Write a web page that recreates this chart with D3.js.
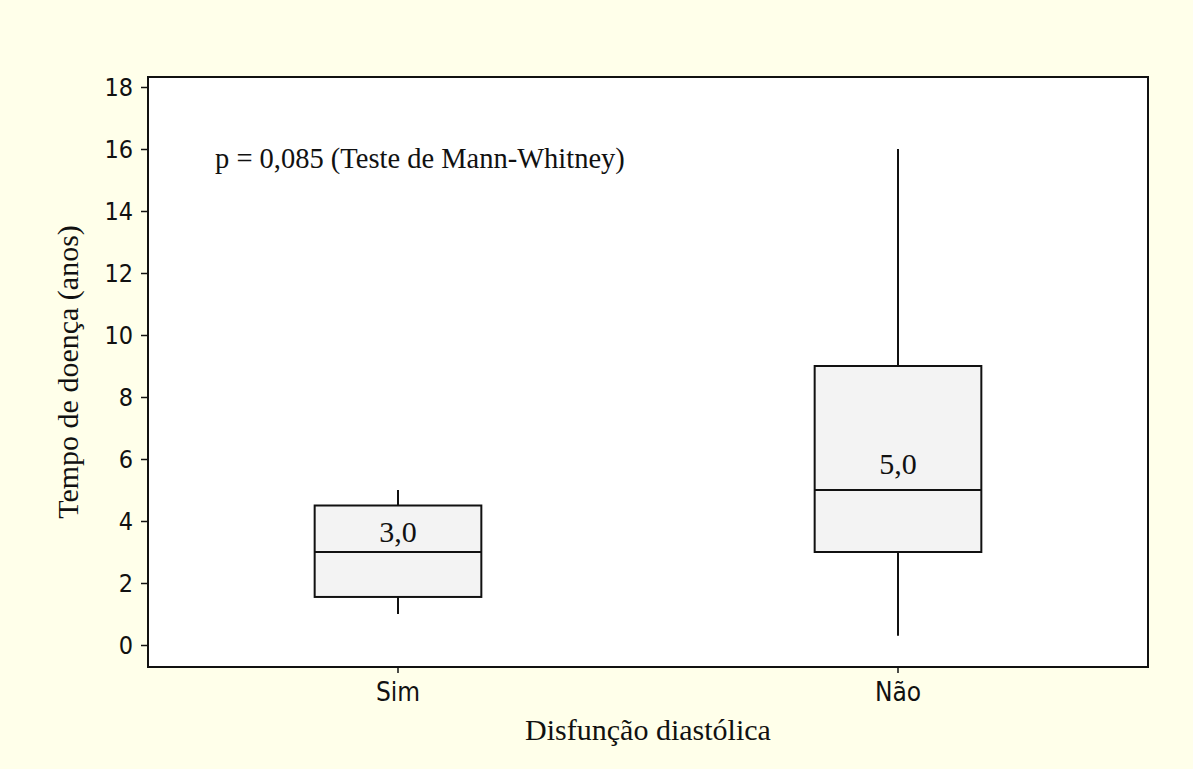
<!DOCTYPE html>
<html>
<head>
<meta charset="utf-8">
<script src="https://cdn.jsdelivr.net/npm/d3@7"></script>
<style>
  html, body { margin: 0; padding: 0; background: #ffffea; }
</style>
</head>
<body>
<div id="chart"></div>
<script>
// data
const groups = ["Sim", "Não"];
const whiskerLow = [1.0, 0.3];
const q1 = [1.55, 3.0];
const medians = [3.0, 5.0];
const q3 = [4.5, 9.0];
const whiskerHigh = [5.0, 16.0];
const medianLabels = ["3,0", "5,0"];
const yTicks = [0, 2, 4, 6, 8, 10, 12, 14, 16, 18];
const annotation = "p = 0,085 (Teste de Mann-Whitney)";

const W = 1193, H = 769;
const plot = { left: 148, top: 77, right: 1148, bottom: 667 };
const sansFont = "'DejaVu Sans Condensed', 'DejaVu Sans', Verdana, sans-serif";
const serifFont = "'Liberation Serif', 'Times New Roman', serif";

const svg = d3.select("#chart").append("svg")
    .attr("width", W)
    .attr("height", H);

svg.append("rect")
    .attr("width", W).attr("height", H)
    .attr("fill", "#ffffea");

const x = d3.scaleBand().domain(groups).range([plot.left, plot.right]).padding(0);
const y = d3.scaleLinear().domain([0, 18]).range([645, 87]);

// plot area
svg.append("rect")
    .attr("x", plot.left).attr("y", plot.top)
    .attr("width", plot.right - plot.left)
    .attr("height", plot.bottom - plot.top)
    .attr("fill", "#ffffff")
    .attr("stroke", "#111")
    .attr("stroke-width", 2);

// y axis
const yAxis = svg.append("g")
    .attr("transform", `translate(${plot.left},0)`)
    .call(d3.axisLeft(y).tickValues(yTicks).tickSize(7).tickPadding(8));
yAxis.select(".domain").remove();
yAxis.selectAll(".tick line").attr("stroke", "#111").attr("stroke-width", 1.5);
yAxis.selectAll(".tick text")
    .attr("fill", "#111")
    .style("font-family", sansFont)
    .style("font-stretch", "condensed")
    .style("font-size", "25px");

// x axis
const xAxis = svg.append("g")
    .attr("transform", `translate(0,${plot.bottom})`)
    .call(d3.axisBottom(x).tickSize(6).tickPadding(10));
xAxis.select(".domain").remove();
xAxis.selectAll(".tick line").attr("stroke", "#111").attr("stroke-width", 1.5);
xAxis.selectAll(".tick text")
    .attr("fill", "#111")
    .style("font-family", sansFont)
    .style("font-stretch", "condensed")
    .style("font-size", "26px");

const boxW = x.bandwidth() / 3;
const labelGap = [10, 16];

const g = svg.append("g");
groups.forEach((name, i) => {
    const cx = x(name) + x.bandwidth() / 2;
    // whiskers
    g.append("line")
        .attr("x1", cx).attr("x2", cx)
        .attr("y1", y(whiskerHigh[i])).attr("y2", y(q3[i]))
        .attr("stroke", "#111").attr("stroke-width", 2);
    g.append("line")
        .attr("x1", cx).attr("x2", cx)
        .attr("y1", y(q1[i])).attr("y2", y(whiskerLow[i]))
        .attr("stroke", "#111").attr("stroke-width", 2);
    // box
    g.append("rect")
        .attr("x", cx - boxW / 2)
        .attr("y", y(q3[i]))
        .attr("width", boxW)
        .attr("height", y(q1[i]) - y(q3[i]))
        .attr("fill", "#f3f3f3")
        .attr("stroke", "#111")
        .attr("stroke-width", 2);
    // median
    g.append("line")
        .attr("x1", cx - boxW / 2).attr("x2", cx + boxW / 2)
        .attr("y1", y(medians[i])).attr("y2", y(medians[i]))
        .attr("stroke", "#111").attr("stroke-width", 2);
    g.append("text")
        .attr("x", cx)
        .attr("y", y(medians[i]) - labelGap[i])
        .attr("text-anchor", "middle")
        .attr("fill", "#111")
        .style("font-family", serifFont)
        .style("font-size", "30px")
        .text(medianLabels[i]);
});

// annotation
svg.append("text")
    .attr("x", 215)
    .attr("y", 168)
    .attr("fill", "#111")
    .style("font-family", serifFont)
    .style("font-size", "28.5px")
    .text(annotation);

// axis titles
svg.append("text")
    .attr("x", (plot.left + plot.right) / 2)
    .attr("y", 740)
    .attr("text-anchor", "middle")
    .attr("fill", "#111")
    .style("font-family", serifFont)
    .style("font-size", "30px")
    .text("Disfunção diastólica");

svg.append("text")
    .attr("transform", `translate(78,${(plot.top + plot.bottom) / 2}) rotate(-90)`)
    .attr("text-anchor", "middle")
    .attr("fill", "#111")
    .style("font-family", serifFont)
    .style("font-size", "30px")
    .text("Tempo de doença (anos)");
</script>
</body>
</html>
